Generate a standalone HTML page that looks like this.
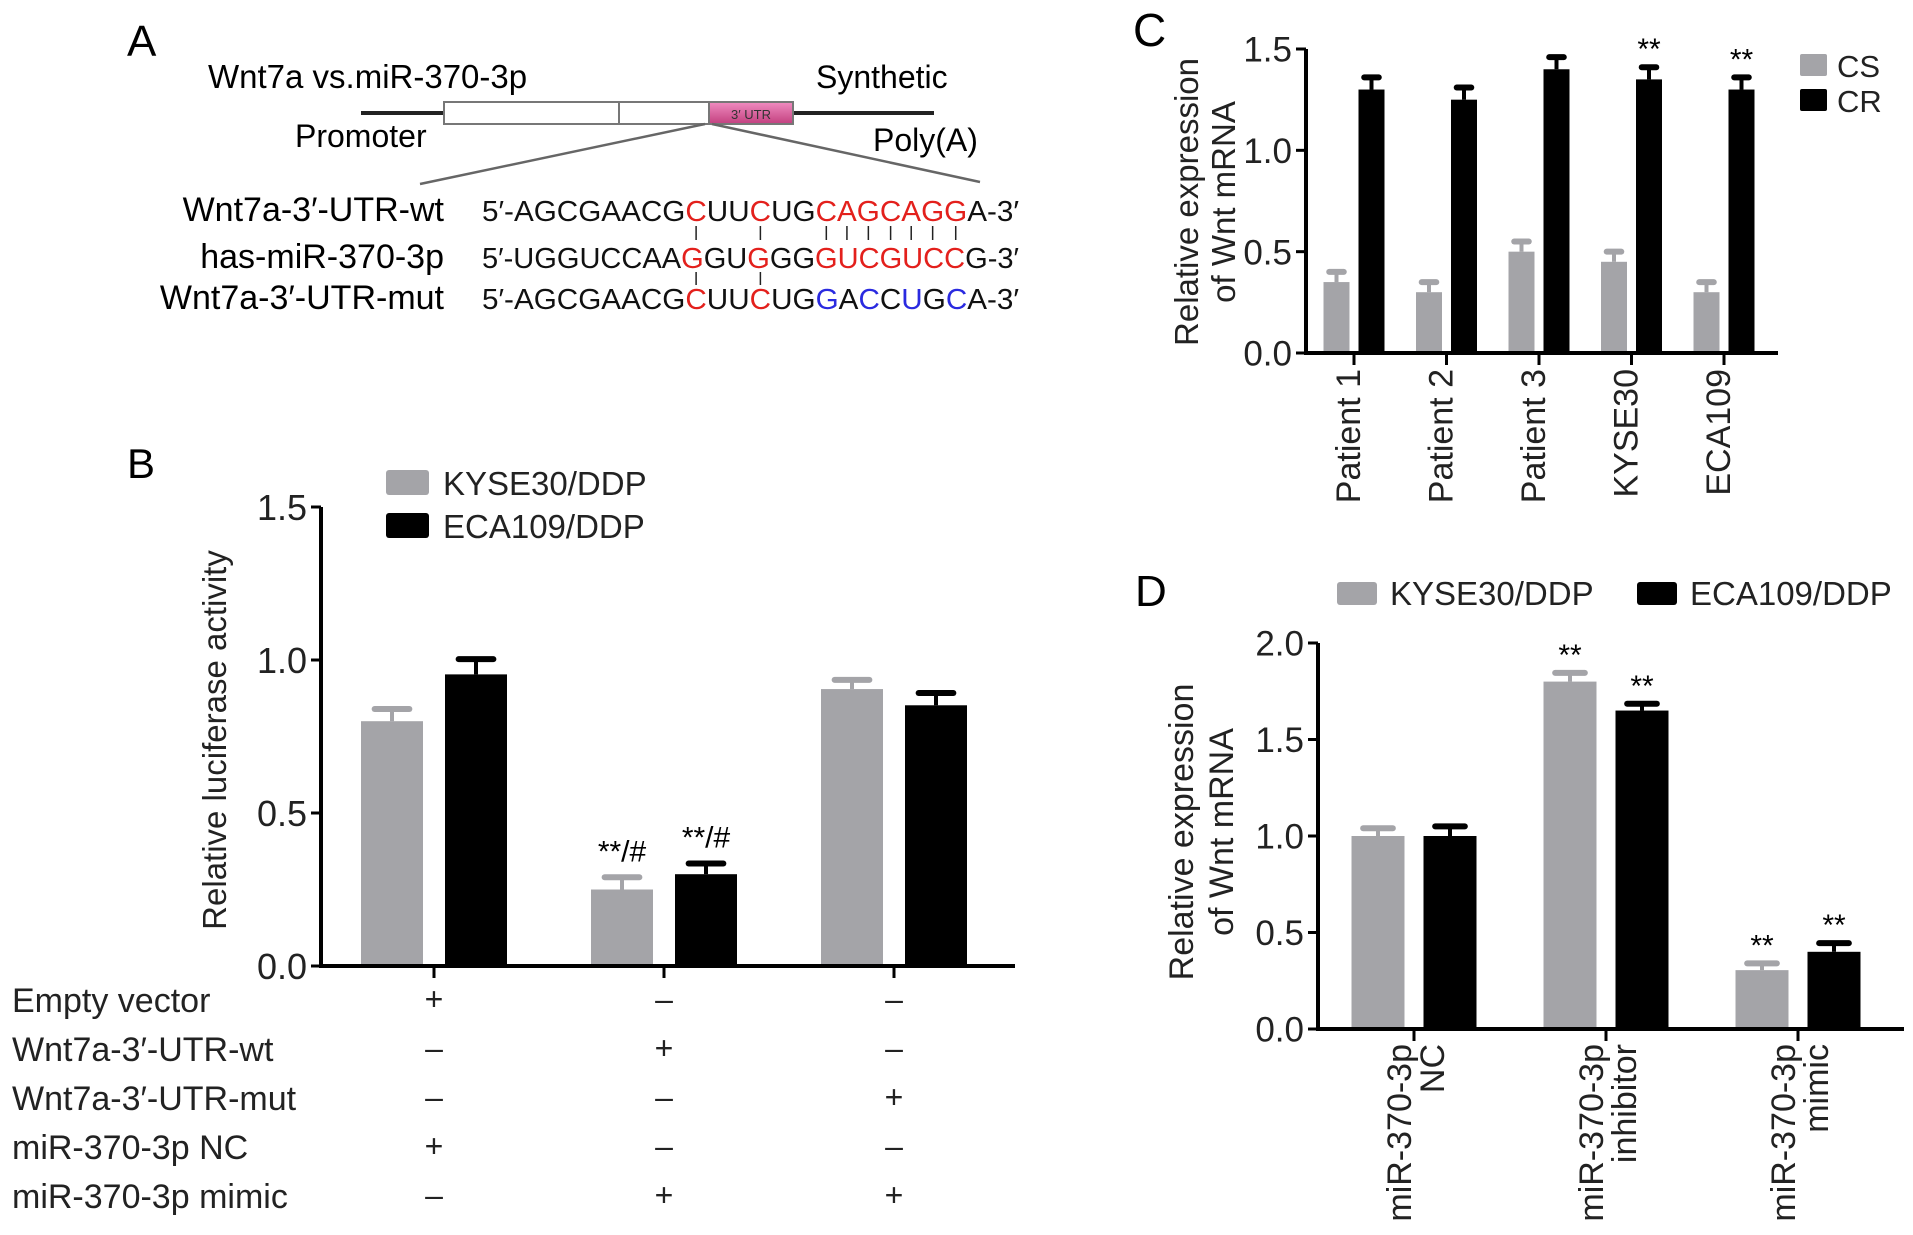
<!DOCTYPE html>
<html><head><meta charset="utf-8"><style>
html,body{margin:0;padding:0;background:#fff;}
svg{display:block;font-family:"Liberation Sans",Arial,sans-serif;}
</style></head><body>
<svg id="fig" width="1913" height="1235" viewBox="0 0 1913 1235" xmlns="http://www.w3.org/2000/svg">
<rect width="1913" height="1235" fill="#fff"/>
<defs><linearGradient id="pk" x1="0" y1="0" x2="0" y2="1"><stop offset="0" stop-color="#f08cc0"/><stop offset="1" stop-color="#c2407f"/></linearGradient></defs>
<g>
<text x="127" y="56" font-size="44">A</text>
<text x="208" y="88" font-size="33">Wnt7a vs.miR-370-3p</text>
<text x="816" y="88" font-size="32">Synthetic</text>
<line x1="361" y1="113" x2="934" y2="113" stroke="#222" stroke-width="4"/>
<rect x="444" y="102" width="265" height="22" fill="#fff" stroke="#777" stroke-width="2"/>
<line x1="619" y1="102" x2="619" y2="124" stroke="#777" stroke-width="2"/>
<rect x="709" y="102" width="84" height="22" fill="url(#pk)" stroke="#777" stroke-width="2"/>
<text x="751" y="119" font-size="13" text-anchor="middle" fill="#333">3′ UTR</text>
<text x="295" y="147" font-size="32">Promoter</text>
<text x="873" y="151" font-size="32">Poly(A)</text>
<line x1="705" y1="124" x2="420" y2="184" stroke="#666" stroke-width="2.5"/>
<line x1="712" y1="124" x2="980" y2="182" stroke="#666" stroke-width="2.5"/>
<text x="444" y="221" font-size="34" text-anchor="end">Wnt7a-3′-UTR-wt</text>
<text x="444" y="268" font-size="34" text-anchor="end">has-miR-370-3p</text>
<text x="444" y="309" font-size="34" text-anchor="end">Wnt7a-3′-UTR-mut</text>
<g id="seqs"></g>
</g>
<g id="panelB"></g>
<g id="panelC"></g>
<g id="panelD"></g>
</svg>
<script>
// ---------- data ----------
const seqRows = ["5′-AGCGAACGCUUCUGCAGCAGGA-3′","5′-UGGUCCAAGGUGGGGUCGUCCG-3′","5′-AGCGAACGCUUCUGGACCUGCA-3′"];
const seqColors = [
 {11:"r",14:"r",17:"r",18:"r",19:"r",20:"r",21:"r",22:"r",23:"r"},
 {11:"r",14:"r",17:"r",18:"r",19:"r",20:"r",21:"r",22:"r",23:"r"},
 {11:"r",14:"r",17:"b",19:"b",21:"b",23:"b"}];

const bCats = ["group-1","group-2","group-3"];
const bKyse = [0.80,0.25,0.905];
const bKyseErr = [0.04,0.04,0.03];
const bEca = [0.953,0.30,0.852];
const bEcaErr = [0.05,0.035,0.04];
const bTicks = ["0.0","0.5","1.0","1.5"];
const bRowLabels = ["Empty vector","Wnt7a-3′-UTR-wt","Wnt7a-3′-UTR-mut","miR-370-3p NC","miR-370-3p mimic"];
const bSigns = [["+","–","–"],["–","+","–"],["–","–","+"],["+","–","–"],["–","+","+"]];

const cCats = ["Patient 1","Patient 2","Patient 3","KYSE30","ECA109"];
const cCS = [0.35,0.30,0.50,0.45,0.30];
const cCSErr = [0.05,0.05,0.05,0.05,0.05];
const cCR = [1.30,1.25,1.40,1.35,1.30];
const cCRErr = [0.06,0.06,0.06,0.06,0.06];
const cTicks = ["0.0","0.5","1.0","1.5"];
const cStars = ["","","","**","**"];

const dCats = [["miR-370-3p","NC"],["miR-370-3p","inhibitor"],["miR-370-3p","mimic"]];
const dKyse = [1.0,1.8,0.305];
const dKyseErr = [0.04,0.045,0.035];
const dEca = [1.0,1.65,0.40];
const dEcaErr = [0.05,0.035,0.045];
const dTicks = ["0.0","0.5","1.0","1.5","2.0"];
const dStarsK = ["","**","**"];
const dStarsE = ["","**","**"];

const NS="http://www.w3.org/2000/svg";
const GRAY="#a4a4a8";
function mk(tag,attrs,parent,txt){const e=document.createElementNS(NS,tag);for(const k in attrs)e.setAttribute(k,attrs[k]);if(txt!==undefined)e.textContent=txt;parent.appendChild(e);return e;}

// ---------- sequences ----------
const sg=document.getElementById('seqs');
const seqY=[221,268,309];
const seqTexts=[];
seqRows.forEach((s,r)=>{
  const t=mk('text',{x:482,y:seqY[r],'font-size':29,textLength:537,lengthAdjust:'spacingAndGlyphs',fill:'#111'},sg);
  
  
  [...s].forEach((ch,i)=>{
    const c=seqColors[r][i]==="r"?"#e3201c":seqColors[r][i]==="b"?"#2a2ae0":"#111";
    mk('tspan',{fill:c},t,ch);
  });
  seqTexts.push(t);
});
function charX(t,i){try{const e=t.getExtentOfChar(i);return e.x+e.width/2;}catch(err){return 482+(i+0.5)*19.2;}}
[11,14,17,18,19,20,21,22,23].forEach(i=>{
  const x=charX(seqTexts[0],i);
  mk('line',{x1:x,y1:226,x2:x,y2:240,stroke:'#222','stroke-width':1.5},sg);
  if(i===11||i===14) mk('line',{x1:x,y1:272,x2:x,y2:285,stroke:'#222','stroke-width':1.5},sg);
});

// ---------- generic helpers ----------
function bar(g,x,w,y0,yv,ye,col,name){
  const r=mk('rect',{x:x,y:yv,width:w,height:y0-yv,fill:col},g);
  
  
  const cx=x+w/2;
  mk('line',{x1:cx,y1:yv,x2:cx,y2:ye,stroke:col,'stroke-width':4},g);
  mk('line',{x1:cx-w*0.28,y1:ye,x2:cx+w*0.28,y2:ye,stroke:col,'stroke-width':6,'stroke-linecap':'round'},g);
}
function yAxis(g,ax,y0,yTop,ticks,fs){
  mk('line',{x1:ax,y1:y0,x2:ax,y2:yTop,stroke:'#000','stroke-width':4},g);
  ticks.forEach((t,i)=>{const y=y0-(y0-yTop)*i/(ticks.length-1);
    mk('line',{x1:ax-10,y1:y,x2:ax,y2:y,stroke:'#000','stroke-width':3},g);
    const tx=mk('text',{x:ax-14,y:y+fs*0.36,'font-size':fs,'text-anchor':'end',fill:'#222'},g,t);
    
    
  });
}

// ---------- panel B ----------
(function(){
  const g=document.getElementById('panelB');
  const ax=321,y0=966,yTop=507,vmax=1.5,xEnd=1015;
  const ys=v=>y0-(y0-yTop)*v/vmax;
  const tick0=434,step=230,bw=62,off=42;
  mk('text',{x:127,y:478,'font-size':42},g,'B');
  yAxis(g,ax,y0,yTop,bTicks,36);
  bCats.forEach((c,i)=>{const tx=tick0+i*step;
    bar(g,tx-off-bw/2,bw,y0,ys(bKyse[i]),ys(bKyse[i]+bKyseErr[i]),GRAY,'bar-kyse30-'+c);
    bar(g,tx+off-bw/2,bw,y0,ys(bEca[i]),ys(bEca[i]+bEcaErr[i]),'#000','bar-eca109-'+c);
    mk('line',{x1:tx,y1:y0,x2:tx,y2:y0+12,stroke:'#000','stroke-width':3},g);
  });
  mk('line',{x1:ax-2,y1:y0,x2:xEnd,y2:y0,stroke:'#000','stroke-width':4},g);
  [[1,0],[1,1]].forEach(([i,s])=>{const tx=tick0+i*step+(s?off:-off);
    const v=s?bEca[i]+bEcaErr[i]:bKyse[i]+bKyseErr[i];
    const t=mk('text',{x:tx,y:ys(v)-16,'font-size':30,'text-anchor':'middle'},g,'**/#');
    
    
  });
  const yt=mk('text',{x:0,y:0,'font-size':33,'text-anchor':'middle',fill:'#222',transform:'translate(226,740) rotate(-90)'},g,'Relative luciferase activity');
  
  
  mk('rect',{x:386,y:470,width:43,height:25,rx:3,fill:GRAY},g);
  mk('text',{x:443,y:495,'font-size':33,fill:'#222'},g,'KYSE30/DDP');
  mk('rect',{x:386,y:513,width:43,height:25,rx:3,fill:'#000'},g);
  mk('text',{x:443,y:538,'font-size':33,fill:'#222'},g,'ECA109/DDP');
  const rowY=[1012,1061,1110,1159,1208];
  bRowLabels.forEach((l,r)=>{
    const t=mk('text',{x:12,y:rowY[r],'font-size':34,fill:'#222'},g,l);
    
    
    bSigns[r].forEach((s,i)=>{
      const st=mk('text',{x:tick0+i*step,y:rowY[r]-2,'font-size':32,'text-anchor':'middle',fill:'#222'},g,s);
      
      
    });
  });
})();

// ---------- panel C ----------
(function(){
  const g=document.getElementById('panelC');
  const ax=1306,y0=353,yTop=49,vmax=1.5,xEnd=1778;
  const ys=v=>y0-(y0-yTop)*v/vmax;
  const tick0=1354,step=92.5,bw=26,off=17.5;
  mk('text',{x:1133,y:46,'font-size':46},g,'C');
  yAxis(g,ax,y0,yTop,cTicks,35);
  cCats.forEach((c,i)=>{const tx=tick0+i*step;
    bar(g,tx-off-bw/2,bw,y0,ys(cCS[i]),ys(cCS[i]+cCSErr[i]),GRAY,'bar-cs-'+i);
    bar(g,tx+off-bw/2,bw,y0,ys(cCR[i]),ys(cCR[i]+cCRErr[i]),'#000','bar-cr-'+i);
    mk('line',{x1:tx,y1:y0,x2:tx,y2:y0+12,stroke:'#000','stroke-width':3},g);
    const t=mk('text',{x:0,y:0,'font-size':34,'text-anchor':'end',fill:'#222',transform:`translate(${tx+6},369) rotate(-90)`},g,c);
    
    
    if(cStars[i]){const s=mk('text',{x:tx+off,y:ys(cCR[i]+cCRErr[i])-8,'font-size':30,'text-anchor':'middle'},g,cStars[i]);
      
      }
  });
  mk('line',{x1:ax-2,y1:y0,x2:xEnd,y2:y0,stroke:'#000','stroke-width':4},g);
  const yt=mk('text',{x:0,y:0,'font-size':33,'text-anchor':'middle',fill:'#222',transform:'translate(1198,202) rotate(-90)'},g,'Relative expression');
  
  const yt2=mk('text',{x:0,y:0,'font-size':33,'text-anchor':'middle',fill:'#222',transform:'translate(1235,202) rotate(-90)'},g,'of Wnt mRNA');
  
  mk('rect',{x:1800,y:54,width:27,height:22,rx:2,fill:GRAY},g);
  mk('text',{x:1837,y:77,'font-size':31,fill:'#222'},g,'CS');
  mk('rect',{x:1800,y:89,width:27,height:22,rx:2,fill:'#000'},g);
  mk('text',{x:1837,y:112,'font-size':31,fill:'#222'},g,'CR');
})();

// ---------- panel D ----------
(function(){
  const g=document.getElementById('panelD');
  const ax=1318,y0=1029,yTop=643,vmax=2.0,xEnd=1904;
  const ys=v=>y0-(y0-yTop)*v/vmax;
  const tick0=1414,step=192,bw=53,off=36;
  mk('text',{x:1135,y:606,'font-size':44},g,'D');
  yAxis(g,ax,y0,yTop,dTicks,35);
  dCats.forEach((c,i)=>{const tx=tick0+i*step;
    bar(g,tx-off-bw/2,bw,y0,ys(dKyse[i]),ys(dKyse[i]+dKyseErr[i]),GRAY,'bar-kyse30-'+i);
    bar(g,tx+off-bw/2,bw,y0,ys(dEca[i]),ys(dEca[i]+dEcaErr[i]),'#000','bar-eca109-'+i);
    mk('line',{x1:tx,y1:y0,x2:tx,y2:y0+12,stroke:'#000','stroke-width':3},g);
    const t=mk('text',{x:0,y:0,'font-size':34,'text-anchor':'end',fill:'#222',transform:`translate(${tx-3},1044) rotate(-90)`},g,c[0]);
    
    
    const t2=mk('text',{x:0,y:0,'font-size':34,'text-anchor':'end',fill:'#222',transform:`translate(${tx+30},1044) rotate(-90)`},g,c[1]);
    
    
    if(dStarsK[i]){const s=mk('text',{x:tx-off,y:ys(dKyse[i]+dKyseErr[i])-8,'font-size':30,'text-anchor':'middle'},g,dStarsK[i]);
      
      }
    if(dStarsE[i]){const s=mk('text',{x:tx+off,y:ys(dEca[i]+dEcaErr[i])-8,'font-size':30,'text-anchor':'middle'},g,dStarsE[i]);
      
      }
  });
  mk('line',{x1:ax-2,y1:y0,x2:xEnd,y2:y0,stroke:'#000','stroke-width':4},g);
  const yt=mk('text',{x:0,y:0,'font-size':34,'text-anchor':'middle',fill:'#222',transform:'translate(1193,832) rotate(-90)'},g,'Relative expression');
  
  const yt2=mk('text',{x:0,y:0,'font-size':34,'text-anchor':'middle',fill:'#222',transform:'translate(1233,832) rotate(-90)'},g,'of Wnt mRNA');
  
  mk('rect',{x:1337,y:582,width:40,height:23,rx:3,fill:GRAY},g);
  mk('text',{x:1390,y:605,'font-size':33,fill:'#222'},g,'KYSE30/DDP');
  mk('rect',{x:1637,y:582,width:40,height:23,rx:3,fill:'#000'},g);
  mk('text',{x:1690,y:605,'font-size':33,fill:'#222'},g,'ECA109/DDP');
})();
</script>
</body></html>
